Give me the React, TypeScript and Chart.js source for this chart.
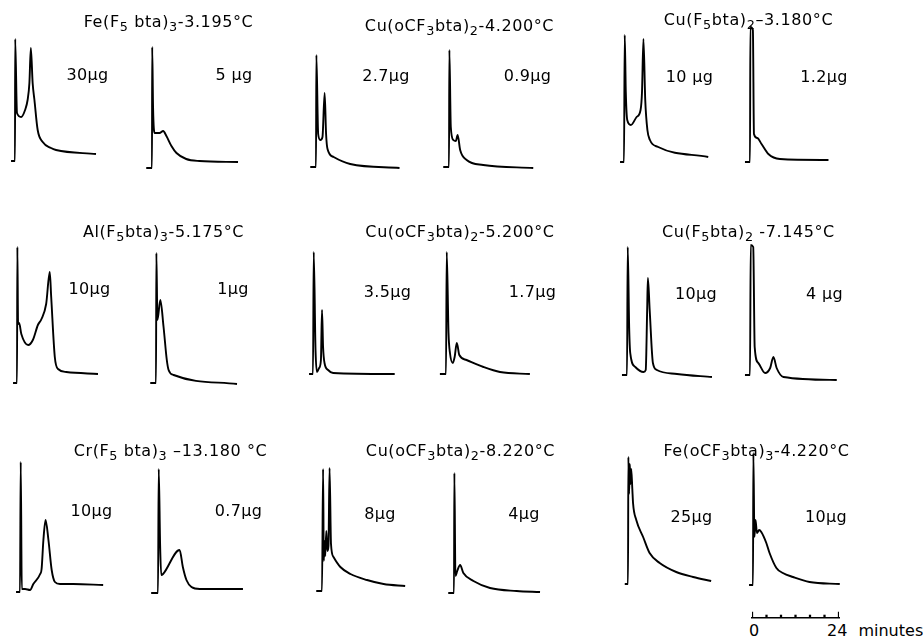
import React, { useEffect, useRef } from "react";
import { Chart, registerables } from "chart.js";
Chart.register(...registerables);

// ---------- data: retention time (minutes) and detector signal (arbitrary units) ----------
const feF5bta30Time = [-1.1, 0, 0.05, 0.55, 1.7, 2.8, 3.5, 4.0, 4.4, 4.9, 5.4, 6.3, 7.7, 10, 11.4, 22.5];
const feF5bta30Signal = [0, 0, 122, 48, 44, 51, 61, 78, 113, 78, 61, 31, 19, 13, 11, 7];
const feF5bta5Time = [-1.6, 0, 0.05, 0.3, 0.7, 2.1, 3.1, 4.0, 5.4, 6.8, 9.5, 13.2, 23.9];
const feF5bta5Signal = [0, 0, 121, 60, 35, 35, 37, 32, 22, 15, 9, 7, 6];

const cuOCF3bta27Time = [-1.6, 0, 0.1, 0.6, 1.2, 1.8, 2.4, 2.8, 3.2, 4.9, 9.5, 23.2];
const cuOCF3bta27Signal = [0, 0, 112, 33, 27, 30, 74, 33, 18, 10, 3, -1];
const cuOCF3bta09Time = [-1.6, 0, 0.1, 0.5, 1.2, 1.9, 2.4, 3.1, 4.9, 9.5, 23.4];
const cuOCF3bta09Signal = [0, 0, 117, 40, 27, 26, 32, 17, 7, 2, -1];

const cuF5bta10Time = [-1.1, 0, 0.2, 0.5, 0.9, 1.9, 3.5, 4.6, 5.0, 5.4, 5.9, 6.5, 7.2, 9.5, 23.4];
const cuF5bta10Signal = [0, 0, 127, 70, 42, 37, 45, 52, 70, 123, 62, 32, 22, 15, 5];
const cuF5bta12Time = [-1.4, 0, 0.1, 0.8, 1.1, 2.0, 3.2, 5.1, 8.3, 21.8];
const cuF5bta12Signal = [0, 0, 135, 132, 28, 24, 18, 8, 3, 2];

const alF5bta10Time = [-1.1, 0, 0.1, 0.3, 0.6, 1.2, 3.1, 4.4, 5.8, 6.8, 8.1, 9.1, 9.5, 10.5, 11.4, 13.7, 22.5];
const alF5bta10Signal = [0, 0, 136, 59, 60, 49, 38, 43, 58, 64, 79, 111, 86, 26, 14, 11, 9];
const alF5bta1Time = [-1.6, 0, 0.1, 0.4, 1.2, 2.1, 3.0, 3.5, 4.9, 22.5];
const alF5bta1Signal = [0, 0, 130, 63, 83, 56, 23, 13, 8, -1];

const cuOCF3bta35Time = [-1.1, 0, 0.2, 0.7, 1.1, 1.7, 2.2, 2.5, 2.8, 3.2, 4.2, 5.6, 22.7];
const cuOCF3bta35Signal = [0, 0, 122, 24, 2, 6, 14, 64, 27, 11, 4, 1, 0];
const cuOCF3bta17Time = [-1.7, 0, 0.2, 0.7, 1.1, 1.9, 2.4, 3.0, 3.7, 5.7, 10.4, 15, 23.3];
const cuOCF3bta17Signal = [0, 0, 122, 41, 21, 11, 17, 31, 19, 14, 7, 2, 0];

const cuF5bta7_10Time = [-1.4, 0, 0.2, 0.6, 0.9, 2.3, 4.6, 5.2, 5.6, 5.8, 6.3, 7.2, 8.3, 13.9, 23.6];
const cuF5bta7_10Signal = [0, 0, 128, 48, 22, 8, 3, 5, 65, 97, 65, 12, 5, 1, -2];
const cuF5bta7_4Time = [-1.4, 0, 0.2, 0.9, 1.3, 2.3, 4.2, 5.6, 6.5, 7.4, 9.3, 24.1];
const cuF5bta7_4Signal = [0, 0, 130, 128, 28, 12, 2, 7, 18, 7, -2, -5];

const crF5bta10Time = [-1.1, 0, 0.2, 0.5, 1.4, 2.8, 3.7, 5.6, 6.0, 6.5, 7.1, 7.9, 8.8, 9.7, 11.1, 14.8, 23.1];
const crF5bta10Signal = [0, 0, 130, 3, 3, 2, 8, 18, 23, 52, 72, 52, 22, 10, 8, 8, 7];
const crF5bta07Time = [-1.9, 0, 0.2, 0.6, 0.9, 1.4, 6.0, 6.9, 7.9, 9.3, 11.6, 23.6];
const crF5bta07Signal = [0, 0, 124, 46, 18, 19, 43, 26, 13, 6, 4, 4];

const cuOCF3bta8Time = [-1.6, 0, 0.3, 0.5, 0.7, 0.9, 1.2, 1.5, 1.8, 2.1, 2.5, 3.2, 5.1, 7.9, 12.5, 17.1, 23.1];
const cuOCF3bta8Signal = [0, 0, 122, 30, 50, 35, 60, 40, 45, 123, 47, 34, 24, 17, 11, 7, 5];
const cuOCF3bta4Time = [-1.6, 0, 0.1, 0.4, 0.9, 1.7, 2.6, 5.4, 10, 17.4, 23.9];
const cuOCF3bta4Signal = [0, 0, 120, 17, 22, 28, 20, 12, 5, 2, 1];

const feOCF3bta25Time = [-0.9, 0, 0.1, 0.3, 0.5, 0.7, 0.9, 1.2, 1.4, 2.3, 4.2, 6.0, 8.8, 13.4, 18.1, 23.1];
const feOCF3bta25Signal = [0, 0, 127, 90, 120, 100, 115, 95, 81, 64, 47, 31, 21, 12, 7, 3];
const feOCF3bta10Time = [-1.1, 0, 0.1, 0.4, 0.7, 1.1, 1.7, 2.3, 3.7, 4.6, 6.5, 8.3, 11.1, 15.7, 24.1];
const feOCF3bta10Signal = [0, 0, 132, 48, 65, 52, 55, 53, 42, 32, 17, 12, 8, 3, 1];

const panelTitles = [
  "Fe(F_5 bta)_3-3.195°C",
  "Cu(oCF_3bta)_2-4.200°C",
  "Cu(F_5bta)_2–3.180°C",
  "Al(F_5bta)_3-5.175°C",
  "Cu(oCF_3bta)_2-5.200°C",
  "Cu(F_5bta)_2 -7.145°C",
  "Cr(F_5 bta)_3 –13.180 °C",
  "Cu(oCF_3bta)_2-8.220°C",
  "Fe(oCF_3bta)_3-4.220°C",
];
const sampleAmounts = [
  "30μg", "5 μg", "2.7μg", "0.9μg", "10 μg", "1.2μg",
  "10μg", "1μg", "3.5μg", "1.7μg", "10μg", "4 μg",
  "10μg", "0.7μg", "8μg", "4μg", "25μg", "10μg",
];
const scaleBarMinutes = [0, 4, 8, 12, 16, 20, 24];
const scaleBarTickSize = [2, 1, 1, 1, 1, 1, 2];

const traceTimes = [
  feF5bta30Time, feF5bta5Time, cuOCF3bta27Time, cuOCF3bta09Time, cuF5bta10Time, cuF5bta12Time,
  alF5bta10Time, alF5bta1Time, cuOCF3bta35Time, cuOCF3bta17Time, cuF5bta7_10Time, cuF5bta7_4Time,
  crF5bta10Time, crF5bta07Time, cuOCF3bta8Time, cuOCF3bta4Time, feOCF3bta25Time, feOCF3bta10Time,
];
const traceSignals = [
  feF5bta30Signal, feF5bta5Signal, cuOCF3bta27Signal, cuOCF3bta09Signal, cuF5bta10Signal, cuF5bta12Signal,
  alF5bta10Signal, alF5bta1Signal, cuOCF3bta35Signal, cuOCF3bta17Signal, cuF5bta7_10Signal, cuF5bta7_4Signal,
  crF5bta10Signal, crF5bta07Signal, cuOCF3bta8Signal, cuOCF3bta4Signal, feOCF3bta25Signal, feOCF3bta10Signal,
];

// ---------- layout (pixels) ----------
const traceOrigin = [
  [14.5, 161], [152.3, 168.3], [315.7, 166.7], [449, 166.7], [624, 161.7], [750, 161.7],
  [17.3, 382.7], [155.7, 382.7], [313.3, 374], [446, 374], [626.7, 375], [750, 375],
  [20, 591.7], [158.3, 592.7], [321.7, 590.7], [454, 593.3], [628.3, 584], [753.3, 585],
];
const titlePos = [
  [168.5, 22], [459.5, 26], [748.5, 20], [163.5, 232], [460, 232], [748.5, 232],
  [170.5, 451], [460.5, 451], [756.5, 451],
];
const amountPos = [
  [87.5, 75], [234, 75], [386, 76], [527.5, 76], [689.5, 77], [824, 77],
  [89.5, 289], [233, 289], [387.5, 292], [532.5, 292], [696, 294], [824.5, 294],
  [91.5, 511], [238.5, 511], [380, 514], [524, 514], [691.5, 517], [826, 517],
];

const X_MIN = -2.5, X_MAX = 25, Y_MIN = -10, Y_MAX = 142;
const PX_PER_MIN = 3.6, PX_PER_UNIT = 1;
const FONT = "'DejaVu Sans', 'Noto Sans', sans-serif";

function Trace({ t, y, x0, base }: { t: number[]; y: number[]; x0: number; base: number }) {
  const ref = useRef<HTMLCanvasElement>(null);
  useEffect(() => {
    const chart = new Chart(ref.current!, {
      type: "line",
      data: {
        datasets: [{
          data: t.map((v, i) => ({ x: v, y: y[i] })),
          borderColor: "#000",
          borderWidth: 1.9,
          pointRadius: 0,
          cubicInterpolationMode: "monotone",
          fill: false,
        }],
      },
      options: {
        animation: false,
        responsive: false,
        events: [],
        layout: { padding: 0 },
        plugins: { legend: { display: false }, tooltip: { enabled: false } },
        scales: {
          x: { type: "linear", display: false, min: X_MIN, max: X_MAX },
          y: { type: "linear", display: false, min: Y_MIN, max: Y_MAX },
        },
      },
    });
    return () => chart.destroy();
  }, []);
  const w = Math.round((X_MAX - X_MIN) * PX_PER_MIN);
  const h = Math.round((Y_MAX - Y_MIN) * PX_PER_UNIT);
  return (
    <canvas
      ref={ref}
      width={w}
      height={h}
      style={{ position: "absolute", left: x0 + X_MIN * PX_PER_MIN, top: base - Y_MAX * PX_PER_UNIT, width: w, height: h }}
    />
  );
}

function ScaleBar() {
  const ref = useRef<HTMLCanvasElement>(null);
  useEffect(() => {
    const chart = new Chart(ref.current!, {
      type: "bar",
      data: {
        datasets: [{
          data: scaleBarMinutes.map((m, i) => ({ x: m, y: scaleBarTickSize[i] })),
          backgroundColor: "#000",
          barThickness: 1.6,
        }],
      },
      options: {
        animation: false,
        responsive: false,
        events: [],
        layout: { padding: { left: 3, right: 3, top: 0, bottom: 2 } },
        plugins: { legend: { display: false }, tooltip: { enabled: false } },
        scales: {
          x: {
            type: "linear", min: 0, max: 24, offset: false,
            grid: { display: false, drawTicks: false, tickLength: 0 },
            ticks: { display: false },
            border: { display: true, color: "#000", width: 1.6 },
          },
          y: { display: false, min: 0, max: 2.7 },
        },
      },
    });
    return () => chart.destroy();
  }, []);
  return (
    <canvas ref={ref} width={93} height={10}
      style={{ position: "absolute", left: 749, top: 610, width: 93, height: 10 }} />
  );
}

function RichText({ text }: { text: string }) {
  const parts = text.split(/_(\d)/);
  return (
    <>
      {parts.map((p, i) =>
        i % 2 === 1 ? (
          <span key={i} style={{ fontSize: "0.8em", position: "relative", top: "0.35em" }}>{p}</span>
        ) : (
          <span key={i}>{p}</span>
        )
      )}
    </>
  );
}

function Label({ x, y, size, children, spacing = 0 }: any) {
  return (
    <div
      style={{
        position: "absolute", left: x, top: y - 10, height: 20, lineHeight: "20px",
        transform: "translateX(-50%)", whiteSpace: "nowrap", fontFamily: FONT,
        fontSize: size, color: "#000", letterSpacing: spacing,
      }}
    >
      {children}
    </div>
  );
}

export default function App() {
  return (
    <div style={{ position: "absolute", left: 0, top: 0, width: 923, height: 639, background: "#fff", overflow: "hidden" }}>
      {traceTimes.map((t, i) => (
        <Trace key={i} t={t} y={traceSignals[i]} x0={traceOrigin[i][0]} base={traceOrigin[i][1]} />
      ))}
      {panelTitles.map((title, i) => (
        <Label key={"t" + i} x={titlePos[i][0]} y={titlePos[i][1]} size={16} spacing={0.6}>
          <RichText text={title} />
        </Label>
      ))}
      {sampleAmounts.map((a, i) => (
        <Label key={"a" + i} x={amountPos[i][0]} y={amountPos[i][1]} size={16} spacing={0.3}>
          {a}
        </Label>
      ))}
      <ScaleBar />
      <div style={{ position: "absolute", left: 754, top: 621, height: 20, lineHeight: "20px", transform: "translateX(-50%)", fontFamily: FONT, fontSize: 16, color: "#000" }}>0</div>
      <div style={{ position: "absolute", left: 827, top: 621, height: 20, lineHeight: "20px", fontFamily: FONT, fontSize: 16, color: "#000", wordSpacing: 6, whiteSpace: "nowrap" }}>24 minutes</div>
    </div>
  );
}
